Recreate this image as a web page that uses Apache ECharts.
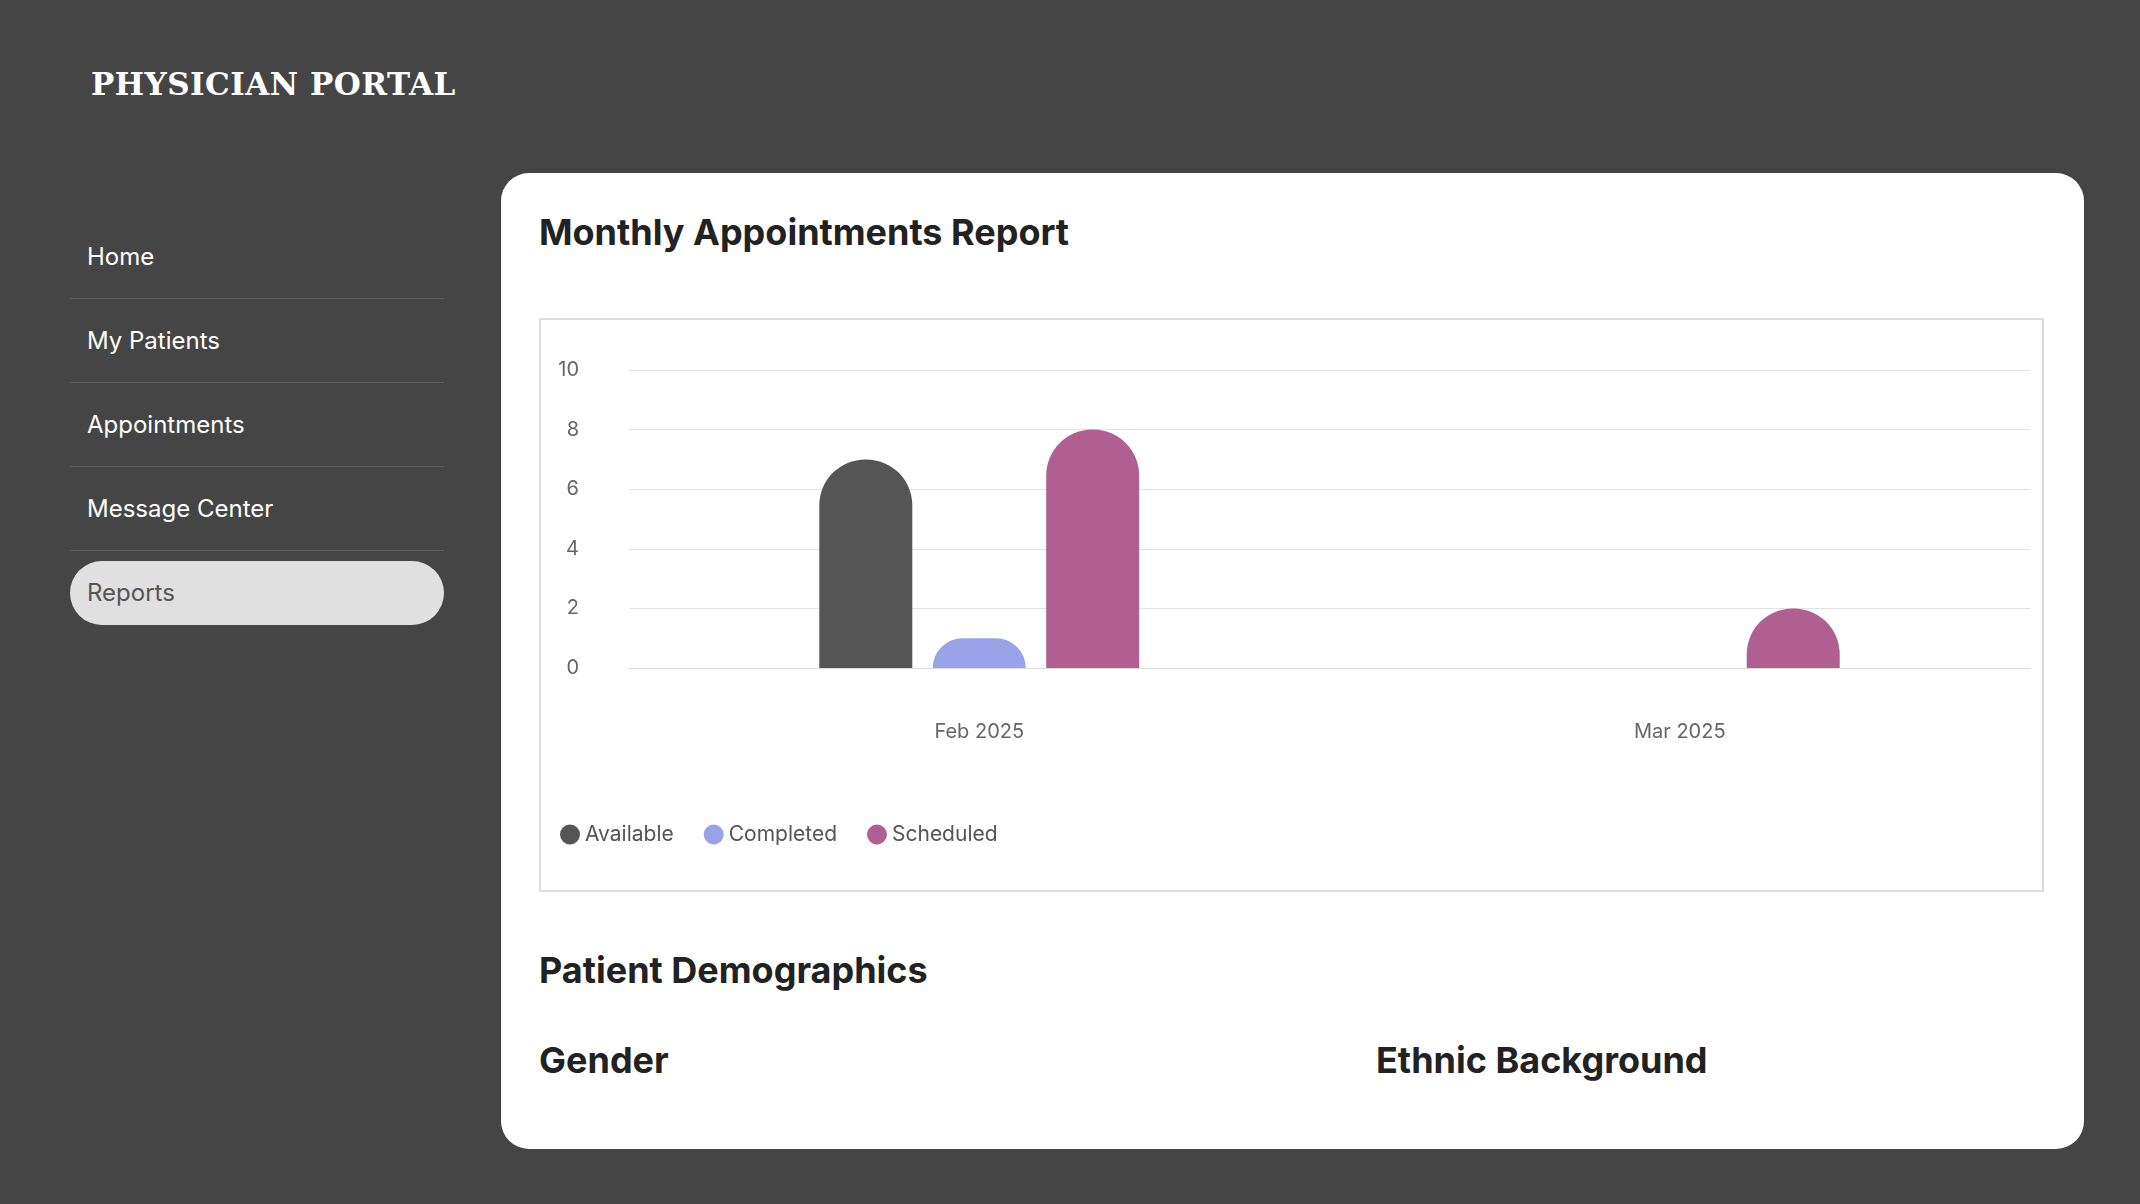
<!DOCTYPE html>
<html>
<head>
<meta charset="utf-8">
<script src="https://cdn.jsdelivr.net/npm/echarts@6/dist/echarts.min.js"></script>
<style>
  html, body { margin: 0; padding: 0; width: 2140px; height: 1204px; background: #454545; font-family: Inter, "Noto Sans", sans-serif; overflow: hidden; }
  .brand { position: absolute; left: 91px; top: 66px; color: #fff; font-family: "DejaVu Serif", "Liberation Serif", serif; font-weight: bold; font-size: 31px; letter-spacing: 0.5px; }
  .nav { position: absolute; left: 70px; top: 215px; width: 374px; }
  .nav div { height: 83px; line-height: 83px; padding-left: 17px; color: #fff; font-size: 24px; border-bottom: 1px solid #5e5e5e; }
  .nav div.active { background: #e0e0e0; color: #555; border-radius: 32px; height: 64px; line-height: 64px; margin-top: 10px; border: none; }
  .card { position: absolute; left: 501px; top: 173px; width: 1583px; height: 976px; background: #fff; border-radius: 28px; }
  h2 { position: absolute; margin: 0; font-size: 36px; color: #222; font-weight: bold; }
  #main { position: absolute; left: 38px; top: 145px; width: 1505px; height: 574px; border: 2px solid #ddd; box-sizing: border-box; }
</style>
</head>
<body>
<div class="brand">PHYSICIAN PORTAL</div>
<div class="nav">
  <div>Home</div>
  <div>My Patients</div>
  <div>Appointments</div>
  <div>Message Center</div>
  <div class="active">Reports</div>
</div>
<div class="card">
  <h2 style="left:38px; top:37px;">Monthly Appointments Report</h2>
  <div id="main"></div>
  <h2 style="left:38px; top:775px;">Patient Demographics</h2>
  <h2 style="left:38px; top:865px;">Gender</h2>
  <h2 style="left:875px; top:865px;">Ethnic Background</h2>
</div>
<script>
const months = ['Feb 2025', 'Mar 2025'];
const available = [7, 0];
const completed = [1, 0];
const scheduled = [8, 2];
const colors = ['#555555', '#98a3e8', '#b06090'];

const myChart = echarts.init(document.getElementById('main'));
const bar = (name, data, color) => ({
    name: name, type: 'bar', data: data, barWidth: 93, barGap: '22%',
    itemStyle: {color: color, borderRadius: [46, 46, 0, 0]}
});
myChart.setOption({
    textStyle: {fontFamily: 'Inter, "Noto Sans", sans-serif'},
    grid: {left: 88, right: 12, top: 50, bottom: 222},
    xAxis: {
        type: 'category', data: months,
        axisLine: {lineStyle: {color: '#ddd'}}, axisTick: {show: false},
        axisLabel: {color: '#666', fontSize: 20, margin: 54}
    },
    yAxis: {
        type: 'value', min: 0, max: 10, interval: 2,
        splitLine: {lineStyle: {color: '#e2e2e2'}},
        axisLabel: {color: '#666', fontSize: 20, margin: 50}
    },
    legend: {
        left: 14, bottom: 40, icon: 'circle', itemWidth: 20, itemHeight: 20, itemGap: 30,
        textStyle: {color: '#555', fontSize: 21}
    },
    series: [
        bar('Available', available, colors[0]),
        bar('Completed', completed, colors[1]),
        bar('Scheduled', scheduled, colors[2])
    ]
});
</script>
</body>
</html>
